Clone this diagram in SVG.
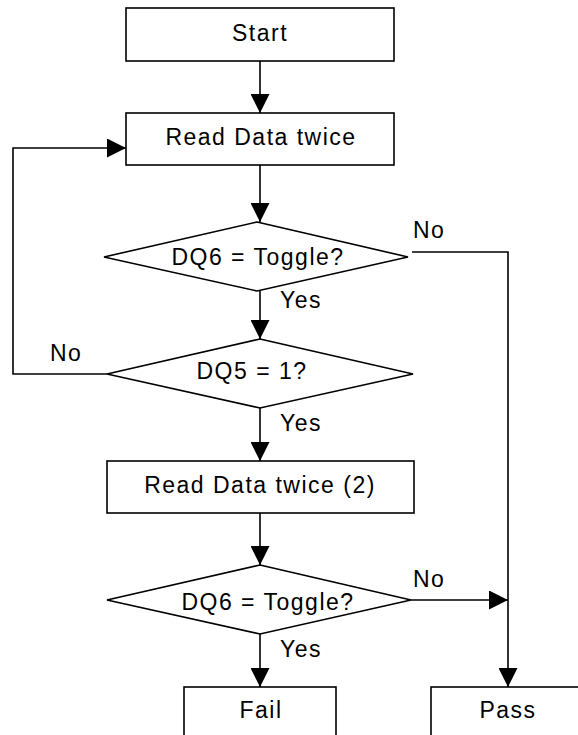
<svg xmlns="http://www.w3.org/2000/svg" width="578" height="735" viewBox="0 0 578 735">
<style>
.box{fill:#fff;stroke:#000;stroke-width:1.6}
.ln{fill:none;stroke:#000;stroke-width:1.6}
text{font-family:"Liberation Sans",Arial,sans-serif;font-size:23px;letter-spacing:1.5px;fill:#000}
.c{text-anchor:middle}
</style>
<defs>
<marker id="ah" viewBox="0 0 19 19" refX="19" refY="9.5" markerWidth="19" markerHeight="19" markerUnits="userSpaceOnUse" orient="auto">
<path d="M0,0 L19,9.5 L0,19 Z" fill="#000"/>
</marker>
</defs>
<rect width="578" height="735" fill="#fff"/>
<g id="connectors">
<line class="ln" x1="260" y1="61" x2="260" y2="113" marker-end="url(#ah)"/>
<line class="ln" x1="260" y1="165" x2="260" y2="222" marker-end="url(#ah)"/>
<line class="ln" x1="260" y1="291" x2="260" y2="339" marker-end="url(#ah)"/>
<polyline class="ln" points="107,374 13,374 13,148 126,148" marker-end="url(#ah)"/>
<line class="ln" x1="260" y1="408" x2="260" y2="461" marker-end="url(#ah)"/>
<line class="ln" x1="260" y1="513" x2="260" y2="565" marker-end="url(#ah)"/>
<line class="ln" x1="260" y1="634" x2="260" y2="687" marker-end="url(#ah)"/>
<polyline class="ln" points="412,252 508,252 508,687" marker-end="url(#ah)"/>
<line class="ln" x1="411" y1="600" x2="508" y2="600" marker-end="url(#ah)"/>
<text x="413" y="238">No</text>
<text x="280" y="308">Yes</text>
<text x="50" y="361">No</text>
<text x="280" y="431">Yes</text>
<text x="413" y="587">No</text>
<text x="280" y="657">Yes</text>
</g>
<g id="start">
<rect class="box" x="126" y="8" width="268" height="53"/>
<text class="c" x="260" y="41">Start</text>
</g>
<g id="read1">
<rect class="box" x="126" y="113" width="268" height="52"/>
<text class="c" x="261" y="145">Read Data twice</text>
</g>
<g id="dq6a">
<polygon class="box" points="257,222 408,257 257,291 104,257"/>
<text class="c" x="258" y="265">DQ6 = Toggle?</text>
</g>
<g id="dq5">
<polygon class="box" points="260,339 413,374 260,408 107,374"/>
<text class="c" x="252" y="379">DQ5 = 1?</text>
</g>
<g id="read2">
<rect class="box" x="107" y="461" width="307" height="52"/>
<text class="c" x="260" y="493">Read Data twice (2)</text>
</g>
<g id="dq6b">
<polygon class="box" points="260,565 411,600 260,634 107,600"/>
<text class="c" x="268" y="610">DQ6 = Toggle?</text>
</g>
<g id="fail">
<rect class="box" x="184" y="687" width="152" height="60"/>
<text class="c" x="261" y="718">Fail</text>
</g>
<g id="pass">
<rect class="box" x="431" y="687" width="154" height="60"/>
<text class="c" x="508" y="718">Pass</text>
</g>
</svg>
